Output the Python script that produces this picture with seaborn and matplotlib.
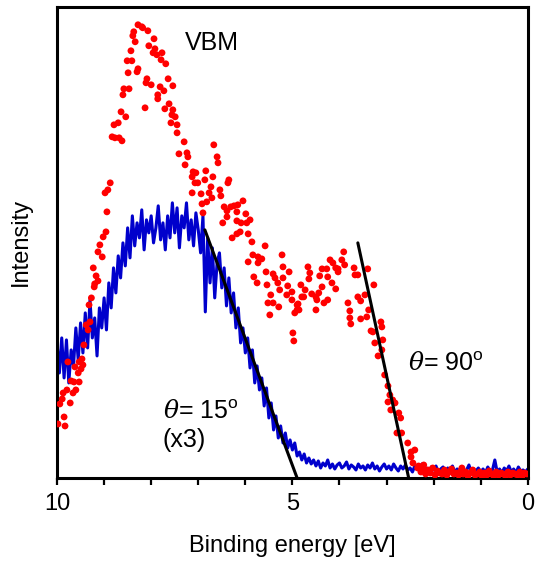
import numpy as np
import pandas as pd
import matplotlib
matplotlib.use("Agg")
import matplotlib.pyplot as plt
import seaborn as sns

# theta = 90 deg spectrum (red dots), binding energy [eV] and intensity [a.u.]
red_energy = [
    9.98, 9.83, 9.85, 9.94, 9.72, 9.89, 9.79, 9.87, 9.66, 9.60,
    9.70, 9.53, 9.64, 9.77, 9.55, 9.62, 9.49, 9.45, 9.53, 9.47,
    9.43, 9.34, 9.38, 9.30, 9.32, 9.27, 9.21, 9.20, 9.13, 9.17,
    9.23, 9.04, 9.13, 9.09, 9.02, 8.96, 8.94, 8.98, 8.92, 8.87,
    8.83, 8.77, 8.68, 8.62, 8.79, 8.70, 8.64, 8.54, 8.60, 8.58,
    8.47, 8.49, 8.30, 8.28, 8.51, 8.41, 8.43, 8.34, 8.39, 8.37,
    8.28, 8.20, 8.18, 8.07, 8.05, 7.94, 7.92, 7.96, 7.88, 7.77,
    7.79, 7.69, 8.13, 8.09, 8.11, 8.00, 7.81, 7.73, 7.64, 7.54,
    7.86, 7.86, 7.62, 7.71, 7.54, 7.56, 7.49, 7.58, 7.45, 7.45,
    7.41, 7.30, 6.67, 7.24, 7.22, 6.60, 7.28, 6.58, 7.11, 7.05,
    6.84, 7.13, 6.69, 7.07, 7.01, 6.86, 6.73, 7.13, 6.94, 6.77,
    6.71, 6.82, 6.92, 6.90, 6.54, 6.52, 6.35, 6.37, 6.45, 6.39,
    6.31, 6.24, 6.16, 6.05, 6.18, 5.99, 5.90, 6.39, 6.48, 6.18,
    6.09, 5.97, 6.11, 6.18, 5.94, 6.28, 5.86, 5.58, 5.22, 5.84,
    5.73, 5.65, 5.73, 5.94, 5.20, 5.56, 5.41, 5.07, 5.82, 5.37,
    5.20, 5.75, 5.31, 5.54, 5.10, 5.27, 5.01, 5.46, 5.12, 5.52,
    5.41, 5.01, 4.88, 5.29, 5.48, 4.95, 4.90, 4.99, 4.97, 4.90,
    4.86, 4.82, 4.80, 4.73, 4.76, 4.67, 4.63, 4.65, 4.59, 4.50,
    4.48, 4.50, 4.44, 4.37, 4.42, 4.37, 4.27, 4.25, 4.25, 4.33,
    4.16, 4.08, 4.20, 4.14, 4.08, 4.03, 3.95, 3.91, 3.89, 4.03,
    3.82, 3.78, 3.78, 3.76, 3.69, 3.67, 3.61, 3.61, 3.55, 3.46,
    3.55, 3.42, 3.38, 3.27, 3.33, 3.29, 3.25, 3.18, 3.40, 3.12,
    3.10, 3.08, 3.10, 3.04, 2.97, 2.93, 2.97, 2.87, 2.82, 2.91,
    2.74, 2.70, 2.78, 2.68, 2.55, 2.48, 2.40, 2.48, 2.44, 2.21,
    2.34, 1.40,
    2.32, 2.27, 2.22, 2.17, 2.12, 2.07, 2.02, 1.97, 1.92, 1.87,
    1.82, 1.77, 1.72, 1.67, 1.62, 1.57, 1.52, 1.47, 1.42, 1.37,
    1.32, 1.27, 1.22, 1.17, 1.12, 1.07, 1.02, 0.97, 0.92, 0.87,
    0.82, 0.77, 0.72, 0.67, 0.62, 0.57, 0.52, 0.47, 0.42, 0.37,
    0.32, 0.27, 0.22, 0.17, 0.12, 0.07, 0.02,
]
red_intensity = [
    54, 52, 61, 74, 75, 79, 88, 85, 85, 88,
    97, 96, 96, 116, 105, 111, 109, 113, 116, 119,
    133, 148, 153, 156, 173, 180, 191, 194, 197, 202,
    210, 221, 226, 233, 241, 246, 266, 285, 288, 295,
    341, 340, 340, 337, 353, 355, 366, 361, 383, 389,
    389, 405, 406, 409, 417, 417, 427, 436, 442, 446,
    453, 451, 450, 447, 432, 439, 429, 425, 423, 425,
    418, 414, 370, 399, 395, 393, 391, 387, 399, 392,
    383, 379, 374, 369, 368, 363, 361, 355, 353, 345,
    324, 336, 333, 325, 321, 321, 313, 315, 306, 305,
    307, 301, 301, 295, 295, 298, 291, 285, 284, 285,
    280, 276, 274, 265, 288, 282, 298, 295, 271, 267,
    271, 272, 273, 277, 266, 264, 258, 261, 255, 257,
    255, 255, 246, 244, 244, 240, 236, 232, 223, 223,
    221, 219, 215, 216, 211, 206, 204, 206, 201, 200,
    200, 195, 195, 193, 192, 188, 186, 183, 183, 175,
    175, 178, 174, 171, 163, 165, 168, 145, 137, 173,
    168, 193, 181, 188, 181, 211, 205, 199, 184, 181,
    178, 168, 185, 191, 202, 209, 209, 201, 178, 175,
    195, 189, 218, 215, 210, 209, 218, 226, 213, 206,
    175, 167, 160, 154, 210, 203, 203, 181, 177, 183,
    159, 161, 168, 193, 147, 146, 135, 122, 209, 156,
    151, 138, 128, 103, 92, 83, 76, 78, 75, 68,
    65, 60, 45, 45, 35, 26, 28, 21, 15, 13,
    10, 10,
    12, 6, 9, 4, 8, 5, 10, 3, 7, 5,
    4, 8, 3, 6, 9, 4, 5, 3, 7, 4,
    6, 2, 5, 8, 3, 4, 6, 2, 5, 3,
    7, 4, 2, 6, 3, 5, 4, 2, 6, 3,
    5, 4, 3, 6, 2, 5, 4,
]

# theta = 15 deg spectrum (blue line, x3), 10.00 -> 0.00 eV in 0.05 eV steps
blue_energy = np.round(np.linspace(10.0, 0.0, 201), 2)
blue_intensity = [
    135, 105, 140, 100, 138, 95, 128, 112, 150, 118,
    155, 125, 165, 130, 178, 140, 160, 122, 170, 150,
    180, 148, 195, 170, 210, 185, 222, 200, 235, 212,
    250, 220, 262, 232, 255, 240, 268, 228, 258, 245,
    262, 235, 250, 272, 238, 255, 228, 262, 240, 275,
    245, 270, 230, 262, 250, 275, 238, 258, 232, 265,
    248, 225, 262, 166, 240, 195, 230, 180, 215, 225,
    190, 210, 172, 200, 165, 185, 150, 170, 135, 150,
    125, 140, 110, 128, 95, 112, 88, 100, 72, 90,
    60, 75, 48, 62, 40, 52, 35, 45, 30, 38,
    28, 35, 22, 26, 18, 24, 15, 20, 14, 18,
    12, 17, 10, 15, 12, 18, 10, 14, 9, 13,
    15, 10, 12, 16, 9, 13, 11, 8, 14, 10,
    12, 8, 13, 10, 15, 9, 12, 7, 11, 14,
    9, 12, 8, 14, 10, 7, 12, 9, 13, 8,
    10, 6, 12, 9, 8, 14, 7, 10, 6, 11,
    8, 12, 6, 9, 11, 5, 10, 7, 12, 6,
    9, 7, 11, 5, 8, 13, 6, 9, 7, 10,
    6, 9, 5, 11, 7, 8, 18, 6, 9, 5,
    10, 7, 12, 6, 9, 5, 11, 7, 8, 6,
    9,
]

# linear extrapolations of the leading edges
fit15_energy = [6.86, 4.90]
fit15_intensity = [248, 0]
fit90_energy = [3.61, 2.53]
fit90_intensity = [235, 0]

sns.set_theme(style="ticks")
plt.rcParams["font.family"] = ["Liberation Sans", "DejaVu Sans"]
plt.rcParams["mathtext.fontset"] = "custom"
plt.rcParams["mathtext.rm"] = "Liberation Sans"
plt.rcParams["mathtext.it"] = "DejaVu Serif:italic"
plt.rcParams.update({"text.color": "black", "axes.labelcolor": "black",
                     "xtick.color": "black", "ytick.color": "black"})

red_df = pd.DataFrame({"energy": red_energy, "intensity": red_intensity})
blue_df = pd.DataFrame({"energy": blue_energy, "intensity": blue_intensity})

fig = plt.figure(figsize=(5.38, 5.63), dpi=100)
ax = fig.add_axes([0.106, 0.151, 0.875, 0.837])

sns.lineplot(data=blue_df, x="energy", y="intensity", ax=ax, color="#0000CC",
             lw=2.2, estimator=None, sort=False)
sns.scatterplot(data=red_df, x="energy", y="intensity", ax=ax, color="#FF0000",
                s=24, edgecolor="none", zorder=3)
ax.plot(fit15_energy, fit15_intensity, color="black", lw=2.2, zorder=4)
ax.plot(fit90_energy, fit90_intensity, color="black", lw=2.2, zorder=4)

ax.set_xlim(10, 0)
ax.set_ylim(0, 471)
ax.set_xticks([10, 5, 0])
ax.set_xticklabels(["10", "5", "0"])
ax.set_xticks(range(0, 11), minor=True)
ax.set_yticks([])
ax.tick_params(axis="x", which="both", direction="out", length=5, width=1.6,
               labelsize=17, pad=6, colors="black")
for sp in ax.spines.values():
    sp.set_linewidth(2.2)
    sp.set_color("black")

ax.set_xlabel("Binding energy [eV]", fontsize=17, labelpad=14)
ax.set_ylabel("Intensity", fontsize=17, labelpad=18)

ax.text(6.71, 435, "VBM", fontsize=18, ha="center", va="center")
ax.text(2.55, 115, r"$\theta$= 90$^{\mathrm{o}}$", fontsize=18, ha="left", va="center")
ax.text(7.75, 67, r"$\theta$= 15$^{\mathrm{o}}$", fontsize=18, ha="left", va="center")
ax.text(7.76, 38, "(x3)", fontsize=18, ha="left", va="center")

fig.savefig("out.png", dpi=100)
